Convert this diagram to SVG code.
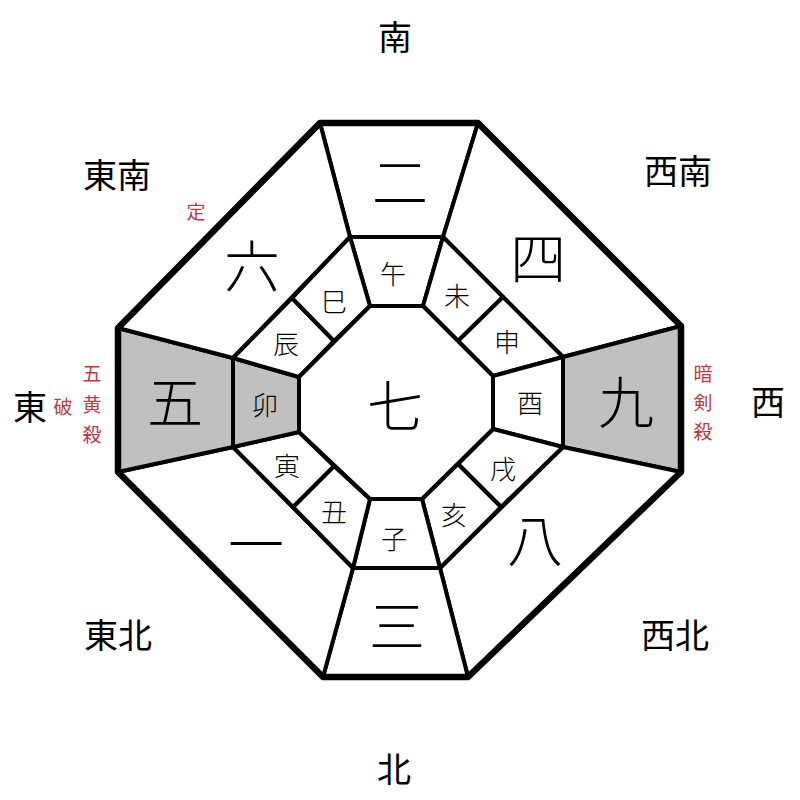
<svg xmlns="http://www.w3.org/2000/svg" width="800" height="800" viewBox="0 0 800 800">
<style>
.cell{fill:#ffffff;stroke:#000;stroke-width:4;stroke-linejoin:round}
.gray{fill:#c0c0c0}
.outer{fill:none;stroke:#000;stroke-width:6.5;stroke-linejoin:round}
text{font-family:"Noto Sans CJK JP","Noto Sans CJK SC",sans-serif;text-anchor:middle;dominant-baseline:central;fill:#000}
.big{font-size:56px;font-weight:300}
.br{font-size:26px;font-weight:300}
.dir{font-size:34px}
.red{font-size:19px;fill:#c0393f}
</style>
<rect width="800" height="800" fill="#fff"/>
<g id="cells-outer">
<g id="n-two"><polygon class="cell" points="320,123 478,123 443,237 350,237"/><text class="big" x="400" y="178">二</text></g>
<g id="n-four"><polygon class="cell" points="478,123 681,326 563,357 443,237"/><text class="big" x="538" y="254">四</text></g>
<g id="n-nine"><polygon class="cell gray" points="681,326 681,472 563,447 563,357"/><text class="big" x="626" y="398">九</text></g>
<g id="n-eight"><polygon class="cell" points="681,472 468,677 440,568 563,447"/><text class="big" x="535" y="536">八</text></g>
<g id="n-three"><polygon class="cell" points="468,677 323,677 353,568 440,568"/><text class="big" x="397" y="622">三</text></g>
<g id="n-one"><polygon class="cell" points="323,677 118,472 233,447 353,568"/><text class="big" x="256" y="540">一</text></g>
<g id="n-five"><polygon class="cell gray" points="118,472 118,328 233,358 233,447"/><text class="big" x="175" y="398">五</text></g>
<g id="n-six"><polygon class="cell" points="118,328 320,123 350,237 233,358"/><text class="big" x="252" y="262">六</text></g>
</g>
<g id="cells-ring">
<g id="n-uma"><polygon class="cell" points="350,237 443,237 423,306 370,306"/><text class="br" x="393" y="272">午</text></g>
<g id="n-hitsuji"><polygon class="cell" points="443,237 503,297 458,341 423,306"/><text class="br" x="457" y="294">未</text></g>
<g id="n-saru"><polygon class="cell" points="503,297 563,357 493,376 458,341"/><text class="br" x="507" y="340">申</text></g>
<g id="n-tori"><polygon class="cell" points="563,357 563,447 493,429 493,376"/><text class="br" x="530" y="401">酉</text></g>
<g id="n-inu"><polygon class="cell" points="563,447 501,507 458,464 493,429"/><text class="br" x="503" y="467">戌</text></g>
<g id="n-i"><polygon class="cell" points="501,507 440,568 422,499 458,464"/><text class="br" x="454" y="513">亥</text></g>
<g id="n-ne"><polygon class="cell" points="440,568 353,568 370,499 422,499"/><text class="br" x="394" y="537">子</text></g>
<g id="n-ushi"><polygon class="cell" points="353,568 293,507 334,466 370,499"/><text class="br" x="334" y="510">丑</text></g>
<g id="n-tora"><polygon class="cell" points="293,507 233,447 299,432 334,466"/><text class="br" x="287" y="464">寅</text></g>
<g id="n-u"><polygon class="cell gray" points="233,447 233,358 299,377 299,432"/><text class="br" x="265" y="403">卯</text></g>
<g id="n-tatsu"><polygon class="cell" points="233,358 292,298 334,341 299,377"/><text class="br" x="286" y="342">辰</text></g>
<g id="n-mi"><polygon class="cell" points="292,298 350,237 370,306 334,341"/><text class="br" x="334" y="300">巳</text></g>
</g>
<g id="n-center"><polygon class="cell" stroke-width="5" points="370,306 423,306 493,376 493,429 422,499 370,499 299,432 299,377"/><text class="big" x="395" y="402">七</text></g>
<g id="connectors"><polygon class="outer" points="320,123 478,123 681,326 681,472 468,677 323,677 118,472 118,328"/></g>
<g id="labels">
<text class="dir" x="395" y="35">南</text>
<text class="dir" x="394" y="767">北</text>
<text class="dir" x="30" y="405">東</text>
<text class="dir" x="768" y="400">西</text>
<text class="dir" x="117" y="173">東南</text>
<text class="dir" x="678" y="169">西南</text>
<text class="dir" x="118" y="633">東北</text>
<text class="dir" x="675" y="633">西北</text>
<text class="red" x="196" y="210">定</text>
<text class="red" x="63" y="405">破</text>
<text class="red" x="92" y="372">五</text>
<text class="red" x="92" y="403">黄</text>
<text class="red" x="92" y="433">殺</text>
<text class="red" x="703" y="372">暗</text>
<text class="red" x="703" y="401">剣</text>
<text class="red" x="703" y="430">殺</text>
</g>
</svg>
